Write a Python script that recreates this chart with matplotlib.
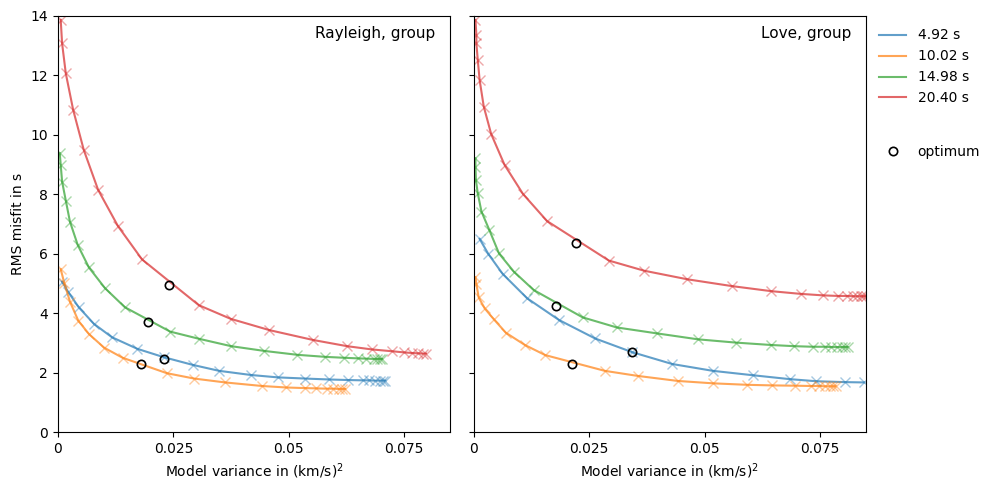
import matplotlib
matplotlib.use("Agg")
import matplotlib.pyplot as plt

periods = ["4.92 s", "10.02 s", "14.98 s", "20.40 s"]
colors = ["tab:blue", "tab:orange", "tab:green", "tab:red"]
x_ticks = [0, 0.025, 0.05, 0.075]
x_tick_labels = ["0", "0.025", "0.05", "0.075"]
y_ticks = [0, 2, 4, 6, 8, 10, 12, 14]

# Rayleigh, group: L-curves (model variance, RMS misfit) per period
ray_var_492 = [0.0009, 0.0022, 0.0045, 0.0078, 0.0117, 0.0172, 0.0229, 0.0292, 0.0349, 0.0418,
               0.0476, 0.0536, 0.0586, 0.0629, 0.0660, 0.0674, 0.0687, 0.0697, 0.0703, 0.0709]
ray_rms_492 = [5.06, 4.72, 4.20, 3.64, 3.19, 2.80, 2.52, 2.26, 2.06, 1.92,
               1.84, 1.80, 1.77, 1.75, 1.74, 1.74, 1.73, 1.73, 1.73, 1.73]
ray_var_1002 = [0.0006, 0.0014, 0.0026, 0.0044, 0.0067, 0.0100, 0.0140, 0.0236, 0.0295, 0.0362,
                0.0442, 0.0494, 0.0534, 0.0559, 0.0582, 0.0596, 0.0608, 0.0616, 0.0622]
ray_rms_1002 = [5.48, 5.00, 4.39, 3.75, 3.30, 2.84, 2.50, 1.98, 1.80, 1.67,
                1.55, 1.50, 1.48, 1.47, 1.46, 1.46, 1.45, 1.45, 1.45]
ray_var_1498 = [0.0004, 0.0006, 0.0009, 0.0017, 0.0026, 0.0043, 0.0067, 0.0102, 0.0145, 0.0243,
                0.0305, 0.0375, 0.0447, 0.0518, 0.0579, 0.0619, 0.0649, 0.0668, 0.0685, 0.0692,
                0.0697, 0.0702]
ray_rms_1498 = [9.38, 8.99, 8.43, 7.79, 7.08, 6.29, 5.54, 4.84, 4.20, 3.38,
                3.14, 2.89, 2.73, 2.60, 2.53, 2.50, 2.48, 2.47, 2.46, 2.46,
                2.46, 2.46]
ray_var_2040 = [0.0006, 0.0009, 0.0017, 0.0033, 0.0056, 0.0087, 0.0130, 0.0182, 0.0305, 0.0374,
                0.0458, 0.0552, 0.0626, 0.0680, 0.0723, 0.0750, 0.0767, 0.0779, 0.0790, 0.0797]
ray_rms_2040 = [13.87, 13.08, 12.07, 10.84, 9.49, 8.15, 6.93, 5.81, 4.27, 3.81,
                3.43, 3.10, 2.89, 2.78, 2.72, 2.68, 2.66, 2.65, 2.64, 2.64]
ray_opt_var = [0.0229, 0.0179, 0.0194, 0.0240]
ray_opt_rms = [2.47, 2.28, 3.71, 4.95]

# Love, group
love_var_492 = [0.0013, 0.0032, 0.0063, 0.0116, 0.0185, 0.0263, 0.0343, 0.0430, 0.0518, 0.0606,
                0.0685, 0.0742, 0.0805, 0.0845]
love_rms_492 = [6.50, 5.99, 5.32, 4.50, 3.77, 3.15, 2.69, 2.29, 2.06, 1.91,
                1.78, 1.71, 1.68, 1.67]
love_var_1002 = [0.0004, 0.0006, 0.0011, 0.0024, 0.0044, 0.0070, 0.0111, 0.0155, 0.0284, 0.0355,
                 0.0442, 0.0518, 0.0592, 0.0646, 0.0696, 0.0730, 0.0748, 0.0761, 0.0771, 0.0778,
                 0.0784]
love_rms_1002 = [5.21, 4.98, 4.53, 4.16, 3.79, 3.34, 2.93, 2.59, 2.06, 1.89,
                 1.72, 1.64, 1.59, 1.57, 1.56, 1.55, 1.55, 1.54, 1.54, 1.54,
                 1.54]
love_var_1498 = [0.0004, 0.0004, 0.0005, 0.0009, 0.0017, 0.0034, 0.0055, 0.0087, 0.0130, 0.0236,
                 0.0310, 0.0397, 0.0486, 0.0568, 0.0644, 0.0694, 0.0735, 0.0761, 0.0775, 0.0787,
                 0.0797, 0.0804, 0.0810]
love_rms_1498 = [9.21, 8.93, 8.48, 8.03, 7.42, 6.80, 6.01, 5.40, 4.78, 3.86,
                 3.52, 3.32, 3.12, 3.01, 2.93, 2.89, 2.87, 2.87, 2.86, 2.86,
                 2.86, 2.86, 2.86]
love_var_2040 = [0.0004, 0.0006, 0.0006, 0.0009, 0.0013, 0.0022, 0.0038, 0.0067, 0.0107, 0.0159,
                 0.0293, 0.0369, 0.0463, 0.0560, 0.0645, 0.0708, 0.0756, 0.0789, 0.0809, 0.0821,
                 0.0830, 0.0838, 0.0843, 0.0850]
love_rms_2040 = [13.87, 13.36, 13.08, 12.52, 11.85, 10.95, 10.03, 8.99, 8.01, 7.10,
                 5.77, 5.43, 5.14, 4.91, 4.74, 4.65, 4.60, 4.58, 4.58, 4.57,
                 4.57, 4.57, 4.57, 4.57]
love_opt_var = [0.0343, 0.0214, 0.0178, 0.0221]
love_opt_rms = [2.69, 2.29, 4.24, 6.35]

panels = [
    ("Rayleigh, group",
     [(ray_var_492, ray_rms_492), (ray_var_1002, ray_rms_1002),
      (ray_var_1498, ray_rms_1498), (ray_var_2040, ray_rms_2040)],
     ray_opt_var, ray_opt_rms),
    ("Love, group",
     [(love_var_492, love_rms_492), (love_var_1002, love_rms_1002),
      (love_var_1498, love_rms_1498), (love_var_2040, love_rms_2040)],
     love_opt_var, love_opt_rms),
]

fig, axes = plt.subplots(1, 2, figsize=(9.82, 4.79), dpi=100, sharey=True)
fig.subplots_adjust(left=0.059, right=0.882, top=0.9666, bottom=0.098, wspace=0.059)

for ax, (title, curves, opt_x, opt_y) in zip(axes, panels):
    handles = []
    for (xv, yv), c, lab in zip(curves, colors, periods):
        h, = ax.plot(xv, yv, color=c, lw=1.5, alpha=0.7, label=lab)
        ax.plot(xv, yv, ls="none", marker="x", ms=7, color=c, alpha=0.4)
        handles.append(h)
    ax.plot(opt_x, opt_y, ls="none", marker="o", ms=6, mfc="none", mec="black",
            mew=1.2, zorder=5)
    ax.text(0.962, 0.975, title, transform=ax.transAxes, ha="right", va="top", fontsize=11)
    ax.set_xlim(0, 0.085)
    ax.set_ylim(0, 14)
    ax.set_xticks(x_ticks)
    ax.set_xticklabels(x_tick_labels)
    ax.set_xlabel("Model variance in (km/s)$^2$")

axes[0].set_yticks(y_ticks)
axes[0].set_ylabel("RMS misfit in s")
axes[1].tick_params(labelleft=False)

# Period legend, and a separate entry for the optimum marker below it
leg1 = axes[1].legend(handles, periods, loc="upper left", bbox_to_anchor=(1.0, 1.0),
                      frameon=False, fontsize=10)
axes[1].add_artist(leg1)
opt_handle = plt.Line2D([], [], ls="none", marker="o", ms=6, mfc="none", mec="black", mew=1.2)
axes[1].legend([opt_handle], ["optimum"], loc="center left", bbox_to_anchor=(1.0, 0.673),
               frameon=False, fontsize=10)

fig.savefig("out.png", dpi=100)
